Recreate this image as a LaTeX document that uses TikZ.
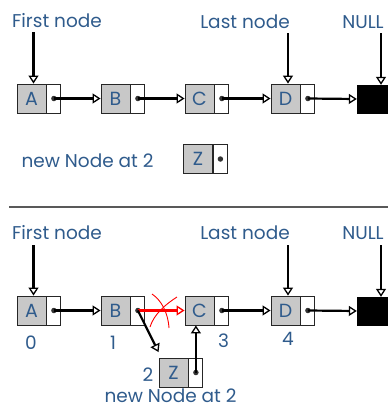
\documentclass[tikz,border=0pt]{standalone}
\usepackage{fontspec}
\setmainfont{Poppins}
\usetikzlibrary{arrows.meta,calc}
\definecolor{txtblue}{HTML}{2F5B8C}
\definecolor{cellgray}{HTML}{C8C8C8}
\begin{document}
\begin{tikzpicture}[x=1pt,y=-1pt,
  cellbox/.style={draw=black!85,line width=0.9pt,fill=cellgray,minimum width=29pt,minimum height=29pt,inner sep=0pt,text=txtblue,font=\fontsize{19}{19}\selectfont},
  ptrbox/.style={draw=black!85,line width=0.9pt,fill=white,minimum width=14pt,minimum height=29pt,inner sep=0pt},
  nullbox/.style={draw=black,fill=black,minimum width=31pt,minimum height=28pt,inner sep=0pt},
  lbl/.style={text=txtblue,font=\fontsize{18.5}{18.5}\selectfont,inner sep=0pt},
  dotc/.style={circle,fill=black!80,inner sep=0pt,minimum size=5.5pt},
  link/.style={line width=2.2pt,-{Triangle[open,length=8pt,width=10pt,line width=1.3pt]}},
  redlink/.style={draw=red,line width=2.2pt,-{Triangle[open,length=8pt,width=10pt,line width=1.3pt]}},
  cross/.style={draw=red,line width=0.9pt}
]
\useasboundingbox (0,0) rectangle (388,408);
% ---------- top list ----------
\node[cellbox] (A1) at (31.5,98.5) {A};
\node[ptrbox,anchor=west] (A1p) at (A1.east) {};
\node[cellbox] (B1) at (115.5,98.5) {B};
\node[ptrbox,anchor=west] (B1p) at (B1.east) {};
\node[cellbox] (C1) at (199.5,98.5) {C};
\node[ptrbox,anchor=west] (C1p) at (C1.east) {};
\node[cellbox] (D1) at (285.5,98.5) {D};
\node[ptrbox,anchor=west] (D1p) at (D1.east) {};
\node[nullbox] (N1) at (372.5,99) {};
\node[dotc] (a1d) at (A1p.center) {};
\node[dotc] (b1d) at (B1p.center) {};
\node[dotc] (c1d) at (C1p.center) {};
\node[dotc] (d1d) at (D1p.center) {};
\draw[link] (a1d.center) -- (B1.west);
\draw[link] (b1d.center) -- (C1.west);
\draw[link] (c1d.center) -- (D1.west);
\draw[link] (d1d.center) -- (N1.west);
\node[lbl] (first1) at (57,21) {First node};
\node[lbl] (last1) at (245,22) {Last node};
\node[lbl] (null1) at (363,22) {NULL};
\coordinate (fa1) at (33.5,32);
\coordinate (la1) at (288,33);
\coordinate (na1) at (381,33);
\draw[link] (fa1) -- (fa1 |- A1.north);
\draw[link] (la1) -- (la1 |- D1.north);
\draw[link] (na1) -- (na1 |- N1.north);
\node[lbl] (new1) at (87.5,161) {new Node at 2};
\node[cellbox] (Z1) at (198,159) {Z};
\node[ptrbox,anchor=west] (Z1p) at (Z1.east) {};
\node[dotc] (z1d) at (Z1p.center) {};
% ---------- separator ----------
\coordinate (s1) at (9,207);
\coordinate (s2) at (388,207);
\draw[black!65,line width=1.6pt] (s1) -- (s2);
% ---------- bottom list ----------
\node[cellbox] (A2) at (31.5,310.5) {A};
\node[ptrbox,anchor=west] (A2p) at (A2.east) {};
\node[cellbox] (B2) at (115.5,310.5) {B};
\node[ptrbox,anchor=west] (B2p) at (B2.east) {};
\node[cellbox] (C2) at (199.5,310.5) {C};
\node[ptrbox,anchor=west] (C2p) at (C2.east) {};
\node[cellbox] (D2) at (285.5,310.5) {D};
\node[ptrbox,anchor=west] (D2p) at (D2.east) {};
\node[nullbox] (N2) at (372.5,311) {};
\node[cellbox] (Z2) at (173.5,372.5) {Z};
\node[ptrbox,anchor=west] (Z2p) at (Z2.east) {};
\node[dotc] (a2d) at (A2p.center) {};
\node[dotc] (b2d) at (B2p.center) {};
\node[dotc] (c2d) at (C2p.center) {};
\node[dotc] (d2d) at (D2p.center) {};
\node[dotc] (z2d) at (Z2p.center) {};
\draw[link] (a2d.center) -- (B2.west);
\draw[redlink] (b2d.center) -- (C2.west);
\draw[link] (b2d.center) -- ($(Z2.north west)+(0,-5.5)$);
\draw[link] (c2d.center) -- (D2.west);
\draw[link] (d2d.center) -- (N2.west);
\draw[link] (z2d.center) -- (z2d |- C2.south);
\coordinate (r1a) at (152,294);
\coordinate (r1b) at (169,328);
\coordinate (r2a) at (177,297);
\coordinate (r2b) at (150,327);
\draw[cross] (r1a) .. controls (161,300) and (168,312) .. (r1b);
\draw[cross] (r2a) .. controls (166,304) and (154,314) .. (r2b);
\node[lbl] (first2) at (57,233) {First node};
\node[lbl] (last2) at (245,233) {Last node};
\node[lbl] (null2) at (363,233) {NULL};
\coordinate (fa2) at (33.5,245);
\coordinate (la2) at (288,245);
\coordinate (na2) at (381,245);
\draw[link] (fa2) -- (fa2 |- A2.north);
\draw[link] (la2) -- (la2 |- D2.north);
\draw[link] (na2) -- (na2 |- N2.north);
\node[lbl] (i0) at (31,343) {0};
\node[lbl] (i1) at (113,343) {1};
\node[lbl] (i2) at (148,375) {2};
\node[lbl] (i3) at (223.5,341) {3};
\node[lbl] (i4) at (288,339) {4};
\node[lbl,text height=13.5pt,text depth=0pt] (new2) at (170.5,396) {new Node at 2};
\end{tikzpicture}
\end{document}
